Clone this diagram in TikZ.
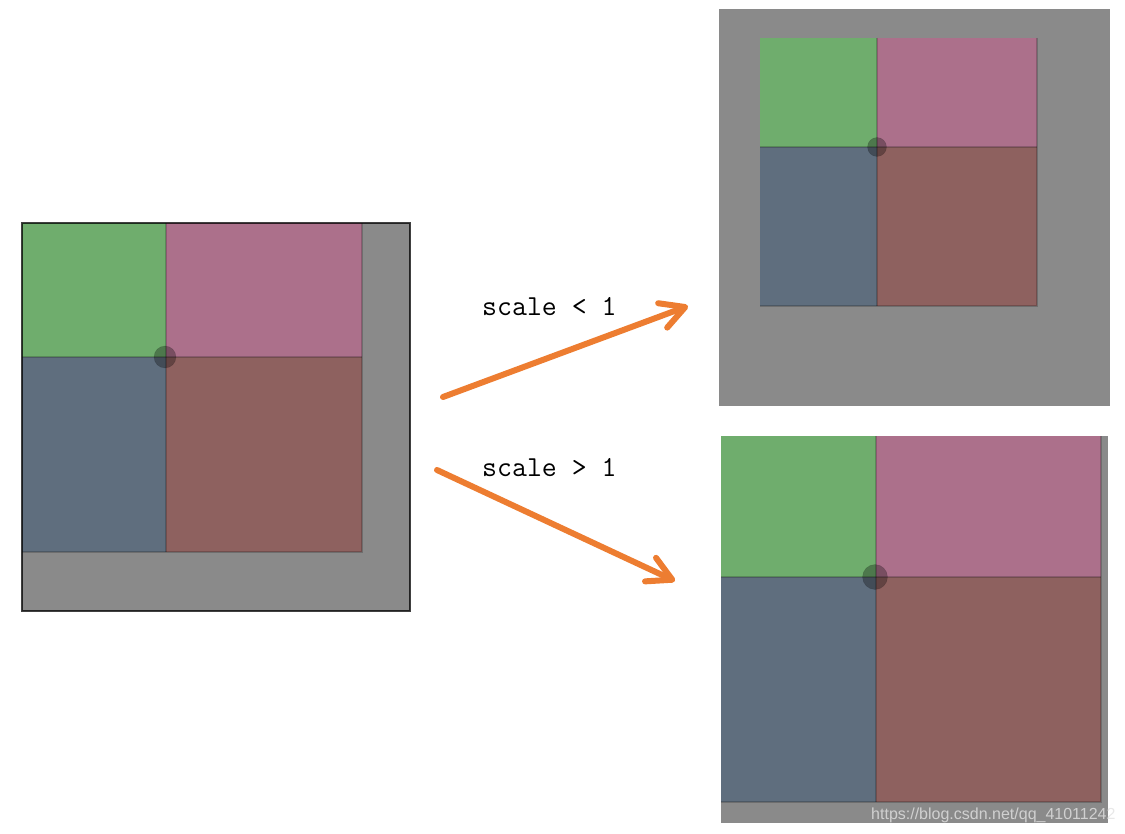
\documentclass[tikz,border=0pt]{standalone}
\usepackage{fontspec}
\newfontfamily\markfont{Liberation Sans}
\usetikzlibrary{arrows.meta}
\definecolor{cellgreen}{HTML}{6FAD6D}
\definecolor{cellpink}{HTML}{AC708B}
\definecolor{cellblue}{HTML}{5F6E7E}
\definecolor{cellbrown}{HTML}{8E615F}
\definecolor{bggray}{HTML}{8A8A8A}
\definecolor{arroworange}{HTML}{ED7D31}
\definecolor{markgray}{HTML}{E2E2E2}
\tikzset{
  backdrop/.style={fill=bggray},
  cellline/.style={draw=black, draw opacity=0.2, line width=1.5pt},
  pivotdot/.style={circle, fill=black, fill opacity=0.3, draw=black, draw opacity=0.15},
  framebox/.style={draw=black, draw opacity=0.75, line width=2pt},
  scalearrow/.style={arroworange, line width=6pt, line cap=round,
    -{Straight Barb[length=24pt, width=26pt, round]}},
  scalelabel/.style={font=\ttfamily\fontsize{29}{34}\selectfont, anchor=base west, inner sep=0pt},
  watermark/.style={font=\markfont\fontsize{16}{19}\selectfont, text=markgray, text opacity=0.8,
    anchor=base west, inner sep=0pt}
}
\begin{document}
\begin{tikzpicture}[x=1pt, y=-1pt]
  \useasboundingbox (0,0) rectangle (1125,834);
  % gray backgrounds
  \fill[backdrop] (22,223) rectangle (410,611);
  \fill[backdrop] (719,9) rectangle (1110,406);
  \fill[backdrop] (721,436) rectangle (1108,823);
  % four colored cells per panel
  \foreach \xa/\xb/\xc/\ya/\yb/\yc in {22/166/362/223/357/552, 760/877/1037/38/147/306, 721/876/1101/436/577/802}{
    \fill[cellgreen] (\xa,\ya) rectangle (\xb,\yb);
    \fill[cellpink] (\xb,\ya) rectangle (\xc,\yb);
    \fill[cellblue] (\xa,\yb) rectangle (\xb,\yc);
    \fill[cellbrown] (\xb,\yb) rectangle (\xc,\yc);
    \draw[cellline] (\xc,\ya) -- (\xc,\yc) -- (\xa,\yc);
    \draw[cellline] (\xb,\ya) -- (\xb,\yc);
    \draw[cellline] (\xa,\yb) -- (\xc,\yb);
  }
  \draw[framebox] (22,223) rectangle (410,611);
  % pivot points
  \node[pivotdot, minimum size=22pt, inner sep=0pt] (pivotleft) at (165,357) {};
  \node[pivotdot, minimum size=19pt, inner sep=0pt] (pivotsmall) at (877,147) {};
  \node[pivotdot, minimum size=25pt, inner sep=0pt] (pivotbig) at (875,577) {};
  % arrows
  \coordinate (shrinkfrom) at (443,397);
  \coordinate (shrinkto) at (688,306);
  \coordinate (growfrom) at (437,470);
  \coordinate (growto) at (675,581);
  \draw[scalearrow] (shrinkfrom) -- (shrinkto);
  \draw[scalearrow] (growfrom) -- (growto);
  \node[scalelabel] (lblshrink) at (482,316) {scale < 1};
  \node[scalelabel] (lblgrow) at (482,476) {scale > 1};
  \node[watermark] (wmark) at (871,819) {https://blog.csdn.net/qq\_41011242};
\end{tikzpicture}
\end{document}
